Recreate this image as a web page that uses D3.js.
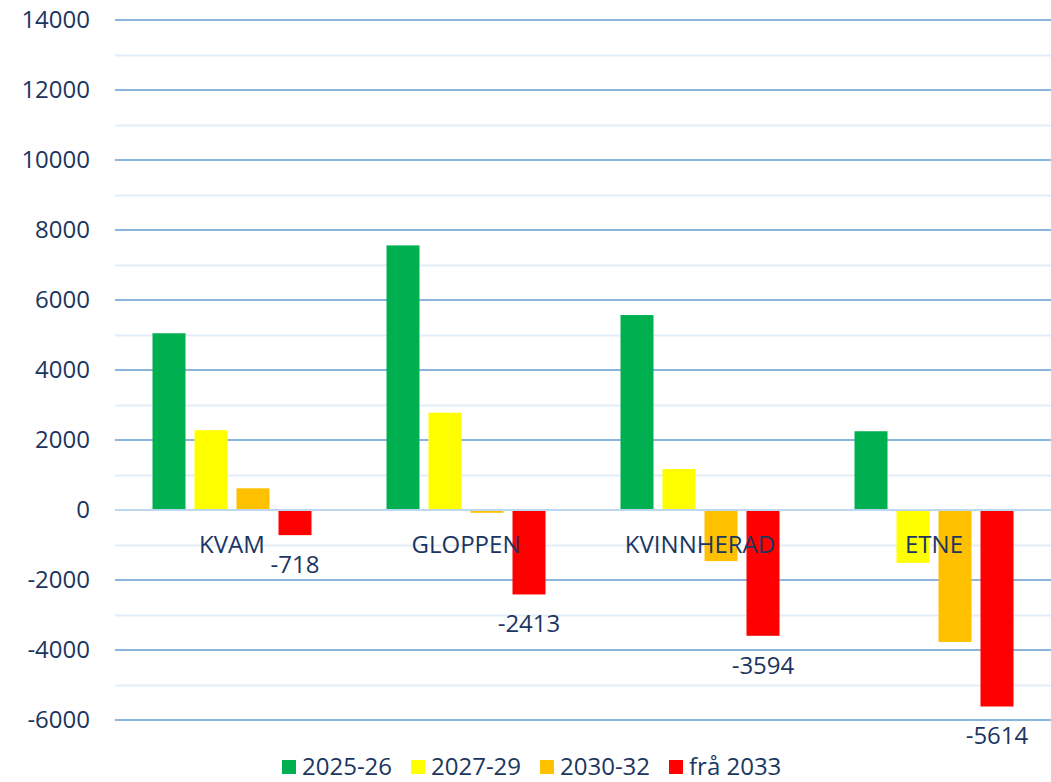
<!DOCTYPE html>
<html>
<head>
<meta charset="utf-8">
<script src="https://cdn.jsdelivr.net/npm/d3@7"></script>
<style>
    html, body { margin: 0; padding: 0; background: #fff; }
    svg { display: block; font-family: 'Open Sans', 'Noto Sans', sans-serif; }
</style>
</head>
<body>
<script>
(function () {
    'use strict';

    // chart data
    var categories = ['KVAM', 'GLOPPEN', 'KVINNHERAD', 'ETNE'];
    var seriesNames = ['2025-26', '2027-29', '2030-32', 'frå 2033'];
    var seriesColors = ['#00b050', '#ffff00', '#ffc000', '#ff0000'];
    var v2025 = [5050, 7560, 5570, 2250];
    var v2027 = [2280, 2780, 1170, -1510];
    var v2030 = [620, -80, -1460, -3770];
    var v2033 = [-718, -2413, -3594, -5614];
    var yTicks = [14000, 12000, 10000, 8000, 6000, 4000, 2000, 0, -2000, -4000, -6000];

    var seriesValues = [v2025, v2027, v2030, v2033];

    // layout
    var W = 1051, H = 782,
        left = 115, right = 1051, top = 20, bottom = 720,
        textCol = '#1b3660', fontSize = 24;

    var svg = d3.select('body').append('svg')
        .attr('width', W)
        .attr('height', H);

    var y = d3.scaleLinear().domain([-6000, 14000]).range([bottom, top]);
    var x0 = d3.scaleBand().domain(categories).range([left, right]).padding(0);
    var x1 = d3.scaleBand().domain(seriesNames).range([0, x0.bandwidth()])
        .paddingInner(0.2143).paddingOuter(0.893);

    // minor grid
    var minor = d3.range(-5000, 14000, 2000);
    svg.append('g').selectAll('line').data(minor).join('line')
        .attr('x1', left).attr('x2', right)
        .attr('y1', function (d) { return Math.round(y(d)) + 0.5; })
        .attr('y2', function (d) { return Math.round(y(d)) + 0.5; })
        .attr('stroke', '#e4eefa').attr('stroke-width', 2);

    // major grid
    svg.append('g').selectAll('line').data(yTicks.filter(function (d) { return d !== 0; }))
        .join('line')
        .attr('x1', left).attr('x2', right)
        .attr('y1', function (d) { return y(d); })
        .attr('y2', function (d) { return y(d); })
        .attr('stroke', '#8cb5de').attr('stroke-width', 2);

    // y axis labels
    svg.append('g').selectAll('text').data(yTicks).join('text')
        .attr('x', 90)
        .attr('y', function (d) { return y(d); })
        .attr('dy', '0.35em')
        .attr('text-anchor', 'end')
        .attr('font-size', fontSize)
        .attr('fill', textCol)
        .text(function (d) { return d; });

    // bars
    seriesValues.forEach(function (vals, si) {
        svg.append('g').selectAll('rect').data(vals).join('rect')
            .attr('x', function (d, ci) { return x0(categories[ci]) + x1(seriesNames[si]); })
            .attr('width', x1.bandwidth())
            .attr('y', function (d) { return y(Math.max(0, d)); })
            .attr('height', function (d) { return Math.abs(y(d) - y(0)); })
            .attr('fill', seriesColors[si]);
    });

    // zero line
    svg.append('line')
        .attr('x1', left).attr('x2', right)
        .attr('y1', y(0)).attr('y2', y(0))
        .attr('stroke', '#bdd7ee').attr('stroke-width', 2);

    // category labels
    svg.append('g').selectAll('text').data(categories).join('text')
        .attr('x', function (d) { return x0(d) + x0.bandwidth() / 2; })
        .attr('y', y(0) + 43)
        .attr('text-anchor', 'middle')
        .attr('font-size', fontSize)
        .attr('fill', textCol)
        .text(function (d) { return d; });

    // data labels for last series
    var last = seriesNames[3];
    svg.append('g').selectAll('text').data(v2033).join('text')
        .attr('x', function (d, ci) { return x0(categories[ci]) + x1(last) + x1.bandwidth() / 2; })
        .attr('y', function (d) { return y(d) + 38; })
        .attr('text-anchor', 'middle')
        .attr('font-size', fontSize)
        .attr('fill', textCol)
        .text(function (d) { return d; });

    // legend (kept just inside the bottom edge)
    var legend = svg.append('g').selectAll('g').data(seriesNames).join('g')
        .attr('transform', function (d, i) { return 'translate(' + (282 + i * 129) + ',0)'; });
    legend.append('rect')
        .attr('x', 0).attr('y', 760)
        .attr('width', 14).attr('height', 14)
        .attr('fill', function (d, i) { return seriesColors[i]; });
    legend.append('text')
        .attr('x', 20).attr('y', 775)
        .attr('font-size', fontSize)
        .attr('fill', textCol)
        .text(function (d) { return d; });
}());
</script>
</body>
</html>
